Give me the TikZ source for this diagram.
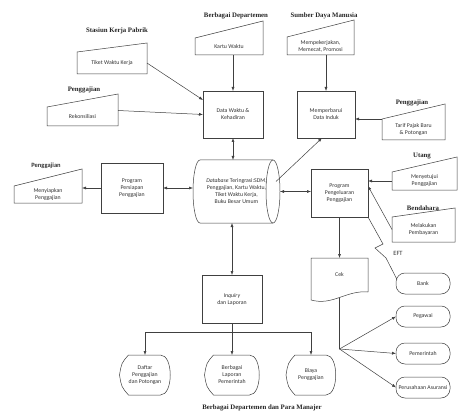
\documentclass[tikz,border=0pt]{standalone}
\usepackage{fontspec}
\setmainfont{Liberation Serif}
\newfontfamily\inr{Carlito}
\usetikzlibrary{calc,arrows.meta,shapes.geometric}
\newcommand\maninput[2]{\draw[ln] (#1.north west) -- ($(#1.north east)+(0,-#2)$) -- (#1.south east) -- (#1.south west) -- cycle;}
\newcommand\dispshape[1]{\draw[ln] (#1.west) .. controls ($(#1.west)+(2,-12)$) .. ($(#1.north west)+(9,0)$) -- ($(#1.north east)+(-10,0)$) .. controls ($(#1.north east)+(3,0)$) and ($(#1.south east)+(3,0)$) .. ($(#1.south east)+(-10,0)$) -- ($(#1.south west)+(9,0)$) .. controls ($(#1.west)+(2,12)$) .. (#1.west) -- cycle;}
\begin{document}
\begin{tikzpicture}[x=1pt,y=-1pt,
  every node/.style={inner sep=0pt,outer sep=0pt},
  ln/.style={draw=black!75,line width=0.5pt},
  arr/.style={ln,-{Latex[length=4pt,width=3pt]}},
  darr/.style={ln,{Latex[length=4pt,width=3pt]}-{Latex[length=4pt,width=3pt]}},
  lbl/.style={font=\fontsize{6.8}{8}\selectfont\bfseries,text=black!85},
  txt/.style={font=\inr\fontsize{5.8}{7}\selectfont,align=center,text=black!80},
  box/.style={txt,draw=black!75,line width=0.5pt},
  term/.style={box,rounded corners=9pt,minimum width=54pt,minimum height=21pt},
  disp/.style={txt,minimum width=#1,minimum height=40pt},
]
\fill[white] (0,0) rectangle (474,417);
\useasboundingbox (0,0) rectangle (474,417);

% labels
\node[lbl] (l1) at (117,31) {Stasiun Kerja Pabrik};
\node[lbl] (l2) at (236,16) {Berbagai Departemen};
\node[lbl] (l3) at (324,16) {Sumber Daya Manusia};
\node[lbl] (l4) at (84,90) {Penggajian};
\node[lbl] (l5) at (412,103) {Penggajian};
\node[txt,font=\inr\fontsize{6.5}{7}\selectfont\bfseries] (l6) at (46,166) {Penggajian};
\node[lbl] (l7) at (422,156) {Utang};
\node[lbl] (l8) at (423,208) {Bendahara};
\node[txt,font=\inr\fontsize{6.5}{7}\selectfont] (l9) at (398,253) {EFT};
\node[lbl] (l10) at (262,408) {Berbagai Departemen dan Para Manajer};

% manual inputs
\node[txt,minimum width=70pt,minimum height=22pt] (tiket) at (112,63) {Tiket Waktu Kerja};
\maninput{tiket}{9}
\node[txt,minimum width=71pt,minimum height=19pt] (rekon) at (82.5,116.5) {Rekonsiliasi};
\maninput{rekon}{13}
\node[txt,minimum width=68pt,minimum height=17pt] (kartu) at (229,46.5) {Kartu Waktu};
\maninput{kartu}{17}
\node[txt,minimum width=67pt,minimum height=18pt] (sdm) at (320.5,46) {Mempekerjakan,\\Memecat, Promosi};
\maninput{sdm}{17}
\node[txt,minimum width=63pt,minimum height=21pt] (tarif) at (413.5,129.5) {Tarif Pajak Baru\\\& Potongan};
\maninput{tarif}{15}
\node[txt,minimum width=68pt,minimum height=17pt] (menyiap) at (48,194.5) {Menyiapkan\\Penggajian};
\maninput{menyiap}{17}
\node[txt,minimum width=65pt,minimum height=18pt] (setuju) at (424.5,181) {Menyetujui\\Penggajian};
\maninput{setuju}{15}
\node[txt,minimum width=63pt,minimum height=25pt] (bayar) at (423.5,229.5) {Melakukan\\Pembayaran};
\maninput{bayar}{9}

% boxes
\node[box,minimum width=60pt,minimum height=47pt] (dw) at (233,114.5) {Data Waktu \&\\Kehadiran};
\node[box,minimum width=58pt,minimum height=47pt] (induk) at (326,114.5) {Memperbarui\\Data Induk};
\node[box,minimum width=62pt,minimum height=50pt] (persiapan) at (132,188) {Program\\Persiapan\\Penggajian};
\node[box,minimum width=57pt,minimum height=48pt] (keluar) at (339.5,193) {Program\\Pengeluaran\\Penggajian};
\node[box,minimum width=60pt,minimum height=48pt] (inq) at (232,299) {\textit{Inquiry}\\dan Laporan};

% database (horizontal cylinder)
\node[txt,minimum width=73pt,minimum height=63pt] (db) at (236.5,191.5)
  {\textit{Database} Teringrasi:SDM,\\Penggajian, Kartu Waktu,\\Tiket Waktu Kerja,\\Buku Besar Umum};
\draw[ln] (db.north east) -- (db.north west) arc[start angle=90,end angle=270,x radius=7pt,y radius=31.5pt] -- (db.south east);
\draw[ln] (db.east) ellipse[x radius=7pt,y radius=31.5pt];
\coordinate (dbw) at ($(db.west)+(-7,0)$);
\coordinate (dbe) at ($(db.east)+(7,0)$);

% document
\node[txt,minimum width=57pt,minimum height=34pt] (cek) at (339.5,275) {Cek};
\draw[ln] (cek.south east) -- (cek.north east) -- (cek.north west) -- ($(cek.south west)+(0,8)$)
  .. controls ($(cek.south west)+(22,14)$) and ($(cek.south east)+(-22,-2)$) .. (cek.south east);
\coordinate (cekb) at ($(cek.south)+(0,6)$);

% displays
\node[disp=51pt] (daftar) at (145,375) {Daftar\\Penggajian\\dan Potongan};
\dispshape{daftar}
\node[disp=55pt] (lapor) at (232,375) {Berbagai\\Laporan\\Pemerintah};
\dispshape{lapor}
\node[disp=50pt] (biaya) at (311,375) {Biaya\\Penggajian};
\dispshape{biaya}

% terminals
\node[term] (bank) at (423,283.5) {Bank};
\node[term] (pegawai) at (423,316.5) {Pegawai};
\node[term] (pemerintah) at (423,353.5) {Pemerintah};
\node[term] (asuransi) at (423,387.5) {Perusahaan Asuransi};

% connectors
\draw[arr] (tiket.east) -- ($(dw.north west)+(0,9)$);
\draw[arr] ($(rekon.east)+(0,-6)$) -- (dw.west);
\draw[arr] (dw.north |- kartu.south) -- (dw.north);
\draw[arr] (induk.north |- sdm.south) -- (induk.north);
\draw[arr] (tarif.north west) -- (tarif.north west -| induk.east);
\draw[darr] (dw.south) -- (dw.south |- db.north);
\draw[arr] ($(db.east)+(3,-10)$) -- ($(induk.south)+(-4,0)$);
\draw[arr] (persiapan.west) -- (persiapan.west -| menyiap.east);
\draw[darr] (persiapan.east) -- (persiapan.east -| dbw);
\draw[darr] (dbe) -- (dbe -| keluar.west);
\draw[arr] (setuju.west) -- (setuju.west -| keluar.east);
\draw[arr] (bayar.west) -- ($(keluar.east)+(0,-7)$);
\draw[arr] (keluar.south -| cek.north) -- (cek.north);
\draw[ln] (keluar.south east) -- ++(15,27) -- ++(-8,4) -- ++(11,10) -- ($(bank.west)+(1,-4)$);
\draw[darr] (inq.north |- db.south) -- (inq.north);
\coordinate (j) at ($(inq.south)+(0,9)$);
\draw[ln] (inq.south) -- (j);
\draw[arr] (j) -| (daftar.north);
\draw[arr] (j) -- (lapor.north);
\draw[arr] (j) -| (biaya.north);
\coordinate (k) at ($(cekb)+(0,51)$);
\draw[ln] (cekb) -- (k);
\draw[arr] (k) -- (pegawai.west);
\draw[arr] (k) -- (pemerintah.west);
\draw[arr] (k) -- (asuransi.west);
\end{tikzpicture}
\end{document}
